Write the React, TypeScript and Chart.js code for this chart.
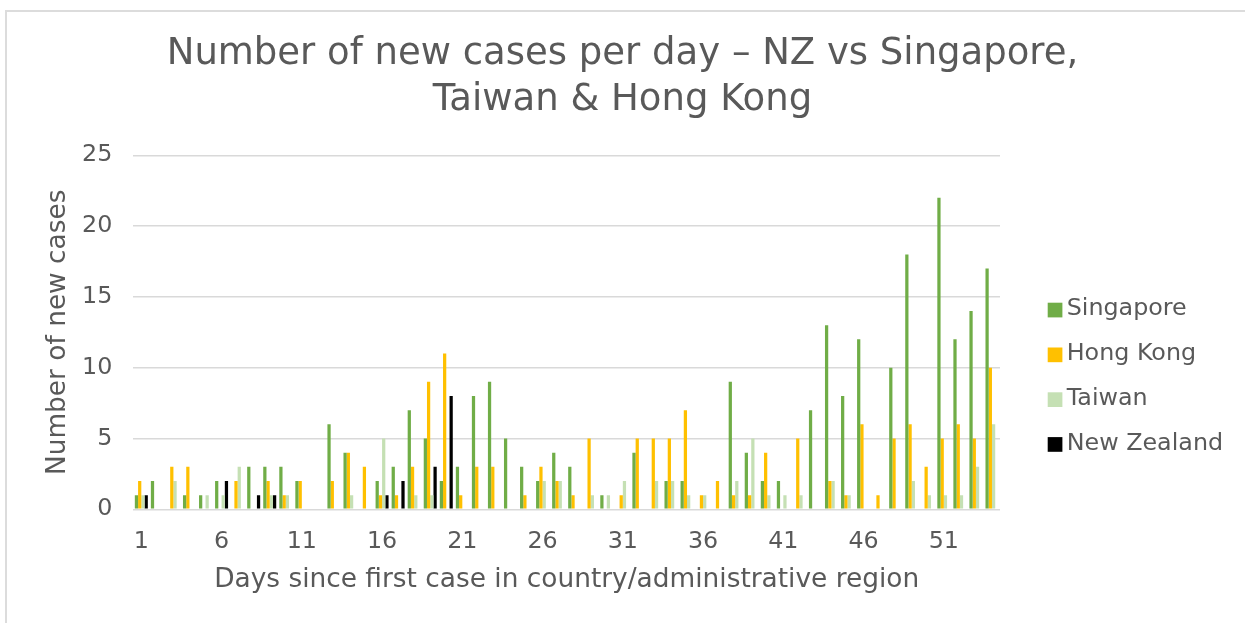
import React, { useEffect, useRef } from "react";
import { Chart, registerables } from "chart.js";

Chart.register(...registerables);

const days: string[] = Array.from({ length: 54 }, (_, i) => String(i + 1));

const singapore = [1, 2, 0, 1, 1, 2, 0, 3, 3, 3, 2, 0, 6, 4, 0, 2, 3, 7, 5, 2, 3, 8, 9, 5, 3, 2, 4, 3, 0, 1, 0, 4, 0, 2, 2, 0, 0, 9, 4, 2, 2, 0, 7, 13, 8, 12, 0, 10, 18, 0, 22, 12, 14, 17];
const hongKong = [2, 0, 3, 3, 0, 0, 2, 0, 2, 1, 2, 0, 2, 4, 3, 1, 1, 3, 9, 11, 1, 3, 3, 0, 1, 3, 2, 1, 5, 0, 1, 5, 5, 5, 7, 1, 2, 1, 1, 4, 0, 5, 0, 2, 1, 6, 1, 5, 6, 3, 5, 6, 5, 10];
const taiwan = [1, 0, 2, 0, 1, 1, 3, 0, 1, 1, 0, 0, 0, 1, 0, 5, 0, 1, 1, 0, 0, 0, 0, 0, 0, 2, 2, 0, 1, 1, 2, 0, 2, 2, 1, 1, 0, 2, 5, 1, 1, 1, 0, 2, 1, 0, 0, 0, 2, 1, 1, 1, 3, 6];
const newZealand = [1, 0, 0, 0, 0, 2, 0, 1, 1, 0, 0, 0, 0, 0, 0, 1, 2, 0, 3, 8, 0, 0, 0, 0, 0, 0, 0, 0, 0, 0, 0, 0, 0, 0, 0, 0, 0, 0, 0, 0, 0, 0, 0, 0, 0, 0, 0, 0, 0, 0, 0, 0, 0, 0];

const seriesNames = ["Singapore", "Hong Kong", "Taiwan", "New Zealand"];
const seriesColors = ["#70ad47", "#ffc000", "#c5e0b4", "#000000"];

const titleLines = ["Number of new cases per day \u2013 NZ vs Singapore,", "Taiwan & Hong Kong"];
const xTitle = "Days since first case in country/administrative region";
const yTitle = "Number of new cases";

const FONT = '"DejaVu Sans", Verdana, sans-serif';
const TEXT = "#595959";
const GRID = "#d9d9d9";

const legendPlugin = {
  id: "customLegend",
  afterDraw(chart: any) {
    const { ctx, chartArea } = chart;
    ctx.save();
    ctx.font = `23.8px ${FONT}`;
    ctx.textBaseline = "middle";
    ctx.textAlign = "left";
    chart.data.datasets.forEach((ds: any, i: number) => {
      const cy = 310 + i * 44.8;
      const bx = chartArea.right + 47.7;
      ctx.fillStyle = ds.backgroundColor;
      ctx.fillRect(bx, cy - 7.3, 14.7, 14.7);
      ctx.fillStyle = TEXT;
      ctx.fillText(ds.label, bx + 19, cy - 1);
    });
    ctx.restore();
  },
};

export default function App() {
  const ref = useRef<HTMLCanvasElement | null>(null);

  useEffect(() => {
    if (!ref.current) return;
    const datasets = [singapore, hongKong, taiwan, newZealand].map((d, i) => ({
      label: seriesNames[i],
      data: d,
      backgroundColor: seriesColors[i],
      borderWidth: 0,
      categoryPercentage: 0.81,
      barPercentage: 1.0,
    }));
    const chart = new Chart(ref.current, {
      type: "bar",
      data: { labels: days, datasets },
      plugins: [legendPlugin],
      options: {
        animation: false,
        responsive: false,
        maintainAspectRatio: false,
        layout: { padding: 0 },
        plugins: {
          legend: { display: false },
          tooltip: { enabled: false },
          title: {
            display: true,
            text: titleLines,
            color: TEXT,
            font: { family: FONT, size: 37, weight: "normal", lineHeight: 1.23 },
            padding: { top: 31.75, bottom: 32.5 },
          },
        },
        scales: {
          x: {
            grid: { display: false, drawTicks: false },
            border: { display: false },
            ticks: {
              autoSkip: false,
              maxRotation: 0,
              minRotation: 0,
              padding: 18.7,
              color: TEXT,
              font: { family: FONT, size: 23.8 },
              callback: (_v: any, i: number) => (i % 5 === 0 ? days[i] : ""),
            },
            title: {
              display: true,
              text: xTitle,
              color: TEXT,
              font: { family: FONT, size: 26.4, lineHeight: 1.2 },
              padding: { top: 0, bottom: 26.9 },
            },
            afterFit: (s: any) => {
              s.height = 113.7;
            },
          },
          y: {
            min: 0,
            max: 25,
            grid: { color: GRID, lineWidth: 1.5, drawTicks: false },
            border: { display: false },
            ticks: {
              stepSize: 5,
              padding: 21,
              color: TEXT,
              font: { family: FONT, size: 23.8 },
            },
            title: {
              display: true,
              text: yTitle,
              color: TEXT,
              font: { family: FONT, size: 26.4, lineHeight: 1.2 },
              padding: { top: 42.2, bottom: 0 },
            },
            afterFit: (s: any) => {
              s.width = 133.3;
            },
          },
          spacer: {
            type: "linear",
            position: "right",
            display: true,
            grid: { display: false, drawTicks: false },
            border: { display: false },
            ticks: { display: false },
            afterFit: (s: any) => {
              s.width = 245;
            },
          },
        },
      } as any,
    });
    return () => chart.destroy();
  }, []);

  return (
    <div style={{ position: "fixed", left: 0, top: 0, width: 1245, height: 623, overflow: "hidden", background: "#fff" }}>
      <div
        style={{
          position: "absolute",
          left: 5,
          top: 10,
          width: 2000,
          height: 2000,
          borderLeft: "2px solid #dcdcdc",
          borderTop: "2px solid #dcdcdc",
        }}
      />
      <canvas ref={ref} width={1245} height={623} style={{ position: "absolute", left: 0, top: 0, width: 1245, height: 623 }} />
    </div>
  );
}
